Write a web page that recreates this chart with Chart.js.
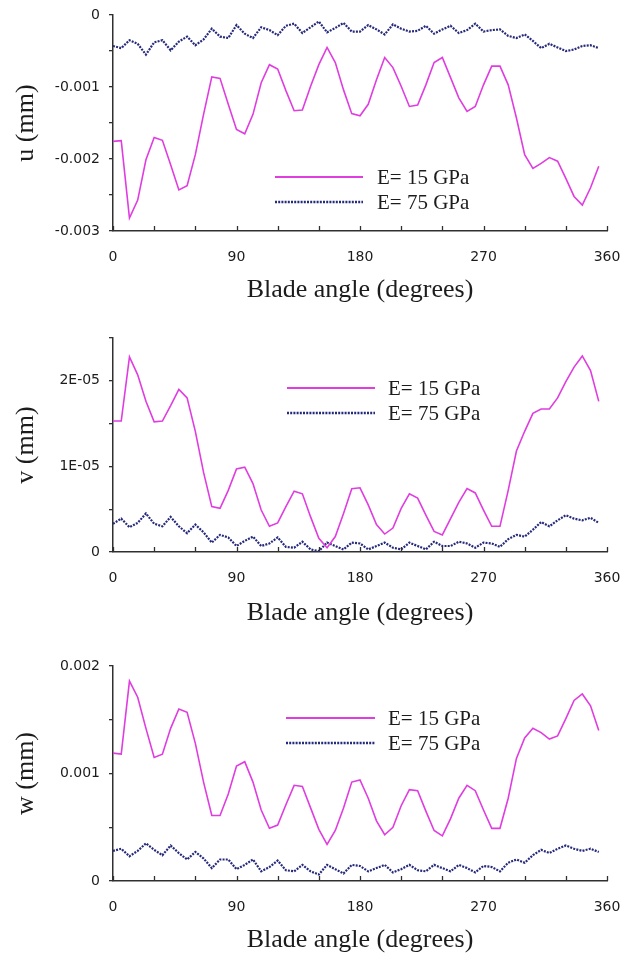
<!DOCTYPE html>
<html>
<head>
<meta charset="utf-8">
<script src="https://cdn.jsdelivr.net/npm/chart.js@4/dist/chart.umd.min.js"></script>
<style>
  html, body { margin: 0; padding: 0; background: #ffffff; }
  #wrap { position: relative; width: 623px; height: 956px; overflow: hidden; }
  .panel { position: absolute; left: 0; }
</style>
</head>
<body>
<div id="wrap">
  <canvas id="chartU" class="panel" width="623" height="320" style="top:0px"></canvas>
  <canvas id="chartV" class="panel" width="623" height="320" style="top:320px"></canvas>
  <canvas id="chartW" class="panel" width="623" height="316" style="top:640px"></canvas>
</div>
<script>
// Blade angle (degrees)
const angles = [0, 6, 12, 18, 24, 30, 36, 42, 48, 54, 60, 66, 72, 78, 84, 90, 96, 102, 108, 114,
  120, 126, 132, 138, 144, 150, 156, 162, 168, 174, 180, 186, 192, 198, 204, 210, 216, 222, 228, 234,
  240, 246, 252, 258, 264, 270, 276, 282, 288, 294, 300, 306, 312, 318, 324, 330, 336, 342, 348, 354];

// u displacement (mm)
const u15 = [-1.755e-3, -1.746e-3, -2.82e-3, -2.57e-3, -2.01e-3, -1.70e-3, -1.74e-3, -2.08e-3, -2.43e-3, -2.37e-3,
  -1.94e-3, -1.38e-3, -0.86e-3, -0.88e-3, -1.24e-3, -1.59e-3, -1.65e-3, -1.38e-3, -0.94e-3, -0.69e-3,
  -0.75e-3, -1.05e-3, -1.33e-3, -1.32e-3, -0.99e-3, -0.69e-3, -0.45e-3, -0.66e-3, -1.04e-3, -1.37e-3,
  -1.40e-3, -1.24e-3, -0.90e-3, -0.59e-3, -0.73e-3, -0.99e-3, -1.27e-3, -1.25e-3, -0.97e-3, -0.66e-3,
  -0.59e-3, -0.87e-3, -1.15e-3, -1.34e-3, -1.27e-3, -0.97e-3, -0.71e-3, -0.71e-3, -0.97e-3, -1.43e-3,
  -1.94e-3, -2.13e-3, -2.06e-3, -1.98e-3, -2.03e-3, -2.27e-3, -2.52e-3, -2.64e-3, -2.40e-3, -2.10e-3];
const u75 = [-0.43e-3, -0.46e-3, -0.35e-3, -0.40e-3, -0.55e-3, -0.38e-3, -0.35e-3, -0.49e-3, -0.37e-3, -0.30e-3,
  -0.42e-3, -0.34e-3, -0.19e-3, -0.30e-3, -0.32e-3, -0.14e-3, -0.26e-3, -0.32e-3, -0.17e-3, -0.21e-3,
  -0.28e-3, -0.15e-3, -0.12e-3, -0.25e-3, -0.17e-3, -0.09e-3, -0.24e-3, -0.18e-3, -0.11e-3, -0.23e-3,
  -0.23e-3, -0.14e-3, -0.20e-3, -0.27e-3, -0.13e-3, -0.19e-3, -0.23e-3, -0.22e-3, -0.15e-3, -0.26e-3,
  -0.20e-3, -0.15e-3, -0.25e-3, -0.21e-3, -0.12e-3, -0.23e-3, -0.21e-3, -0.20e-3, -0.29e-3, -0.32e-3,
  -0.27e-3, -0.36e-3, -0.46e-3, -0.40e-3, -0.45e-3, -0.50e-3, -0.48e-3, -0.43e-3, -0.42e-3, -0.46e-3];

// v displacement (mm)
const v15 = [1.53e-5, 1.53e-5, 2.28e-5, 2.07e-5, 1.76e-5, 1.52e-5, 1.53e-5, 1.71e-5, 1.90e-5, 1.80e-5,
  1.41e-5, 0.93e-5, 0.53e-5, 0.51e-5, 0.72e-5, 0.97e-5, 0.99e-5, 0.80e-5, 0.49e-5, 0.30e-5,
  0.34e-5, 0.53e-5, 0.71e-5, 0.68e-5, 0.41e-5, 0.16e-5, 0.05e-5, 0.18e-5, 0.45e-5, 0.74e-5,
  0.75e-5, 0.55e-5, 0.32e-5, 0.21e-5, 0.28e-5, 0.51e-5, 0.68e-5, 0.63e-5, 0.43e-5, 0.24e-5,
  0.20e-5, 0.39e-5, 0.58e-5, 0.74e-5, 0.69e-5, 0.49e-5, 0.30e-5, 0.30e-5, 0.72e-5, 1.18e-5,
  1.41e-5, 1.62e-5, 1.67e-5, 1.67e-5, 1.80e-5, 1.99e-5, 2.16e-5, 2.29e-5, 2.12e-5, 1.76e-5];
const v75 = [0.33e-5, 0.39e-5, 0.29e-5, 0.34e-5, 0.45e-5, 0.33e-5, 0.30e-5, 0.41e-5, 0.30e-5, 0.22e-5,
  0.32e-5, 0.23e-5, 0.11e-5, 0.20e-5, 0.17e-5, 0.07e-5, 0.13e-5, 0.18e-5, 0.07e-5, 0.10e-5,
  0.17e-5, 0.06e-5, 0.05e-5, 0.12e-5, 0.03e-5, 0.01e-5, 0.11e-5, 0.07e-5, 0.03e-5, 0.11e-5,
  0.10e-5, 0.03e-5, 0.07e-5, 0.11e-5, 0.05e-5, 0.03e-5, 0.11e-5, 0.07e-5, 0.03e-5, 0.12e-5,
  0.07e-5, 0.07e-5, 0.12e-5, 0.10e-5, 0.05e-5, 0.11e-5, 0.10e-5, 0.06e-5, 0.15e-5, 0.20e-5,
  0.18e-5, 0.26e-5, 0.35e-5, 0.30e-5, 0.37e-5, 0.43e-5, 0.39e-5, 0.37e-5, 0.40e-5, 0.34e-5];

// w displacement (mm)
const w15 = [1.19e-3, 1.18e-3, 1.86e-3, 1.71e-3, 1.42e-3, 1.15e-3, 1.18e-3, 1.42e-3, 1.60e-3, 1.57e-3,
  1.28e-3, 0.92e-3, 0.61e-3, 0.61e-3, 0.81e-3, 1.07e-3, 1.11e-3, 0.92e-3, 0.66e-3, 0.49e-3,
  0.52e-3, 0.71e-3, 0.89e-3, 0.88e-3, 0.68e-3, 0.48e-3, 0.34e-3, 0.47e-3, 0.68e-3, 0.92e-3,
  0.94e-3, 0.77e-3, 0.56e-3, 0.43e-3, 0.50e-3, 0.70e-3, 0.85e-3, 0.84e-3, 0.65e-3, 0.47e-3,
  0.42e-3, 0.58e-3, 0.77e-3, 0.89e-3, 0.84e-3, 0.66e-3, 0.49e-3, 0.49e-3, 0.77e-3, 1.14e-3,
  1.33e-3, 1.42e-3, 1.38e-3, 1.32e-3, 1.35e-3, 1.51e-3, 1.68e-3, 1.74e-3, 1.63e-3, 1.40e-3];
const w75 = [0.28e-3, 0.30e-3, 0.23e-3, 0.28e-3, 0.35e-3, 0.29e-3, 0.24e-3, 0.33e-3, 0.26e-3, 0.20e-3,
  0.27e-3, 0.21e-3, 0.12e-3, 0.20e-3, 0.20e-3, 0.11e-3, 0.15e-3, 0.20e-3, 0.09e-3, 0.13e-3,
  0.19e-3, 0.10e-3, 0.09e-3, 0.15e-3, 0.09e-3, 0.06e-3, 0.15e-3, 0.11e-3, 0.07e-3, 0.15e-3,
  0.14e-3, 0.09e-3, 0.12e-3, 0.15e-3, 0.08e-3, 0.11e-3, 0.15e-3, 0.10e-3, 0.09e-3, 0.15e-3,
  0.12e-3, 0.09e-3, 0.15e-3, 0.12e-3, 0.08e-3, 0.14e-3, 0.13e-3, 0.09e-3, 0.17e-3, 0.20e-3,
  0.17e-3, 0.24e-3, 0.29e-3, 0.26e-3, 0.30e-3, 0.33e-3, 0.30e-3, 0.28e-3, 0.30e-3, 0.27e-3];

const seriesLabels = ['E= 15 GPa', 'E= 75 GPa'];
const xTitle = 'Blade angle (degrees)';
const xTickLabels = ['0', '90', '180', '270', '360'];

const MAGENTA = '#e03de0';
const NAVY = '#262a7a';
const INK = '#1c1c1c';
const AXIS = '#303030';
const TICK_FONT = { family: 'DejaVu Sans', size: 14 };
const SERIF = 'Liberation Serif';

// Short tick marks pointing up into the plot from the angle axis
const innerAngleTicks = {
  id: 'innerAngleTicks',
  afterDatasetsDraw(chart) {
    const xs = chart.scales.x;
    const bottom = chart.chartArea.bottom;
    const ctx = chart.ctx;
    ctx.save();
    ctx.strokeStyle = AXIS;
    ctx.lineWidth = 1.3;
    xs.ticks.forEach(t => {
      const px = Math.round(xs.getPixelForValue(t.value)) + 0.5;
      ctx.beginPath();
      ctx.moveTo(px, bottom);
      ctx.lineTo(px, bottom - 5);
      ctx.stroke();
    });
    ctx.restore();
  }
};

// Line-sample legend placed inside the plot
const sampleLegend = {
  id: 'sampleLegend',
  afterDraw(chart, args, opts) {
    const ctx = chart.ctx;
    ctx.save();
    chart.data.datasets.forEach((ds, i) => {
      const y = opts.rows[i];
      ctx.beginPath();
      ctx.strokeStyle = ds.borderColor;
      ctx.lineWidth = i === 0 ? 1.8 : 2.6;
      ctx.setLineDash(ds.borderDash || []);
      ctx.moveTo(opts.x0, y);
      ctx.lineTo(opts.x1, y);
      ctx.stroke();
      ctx.setLineDash([]);
      ctx.fillStyle = INK;
      ctx.font = '21px "' + SERIF + '"';
      ctx.textBaseline = 'middle';
      ctx.textAlign = 'left';
      ctx.fillText(ds.label, opts.textX, y + 1);
    });
    ctx.restore();
  }
};

function points(values) {
  return angles.map((a, i) => ({ x: a, y: values[i] }));
}

function makePanel(id, cfg) {
  const ctx = document.getElementById(id).getContext('2d');
  return new Chart(ctx, {
    type: 'line',
    data: {
      datasets: [
        { label: seriesLabels[0], data: points(cfg.soft), borderColor: MAGENTA, borderWidth: 1.6,
          pointRadius: 0, tension: 0, fill: false },
        { label: seriesLabels[1], data: points(cfg.stiff), borderColor: NAVY, borderWidth: 2.2,
          borderDash: [2, 1.2], pointRadius: 0, tension: 0, fill: false }
      ]
    },
    options: {
      responsive: false,
      animation: false,
      devicePixelRatio: 1,
      layout: { padding: { top: cfg.padTop, right: 16, left: 0, bottom: 0 } },
      plugins: {
        legend: { display: false },
        tooltip: { enabled: false },
        sampleLegend: cfg.legend
      },
      scales: {
        x: {
          type: 'linear', min: 0, max: 360,
          grid: { display: false, drawTicks: false },
          border: { display: true, color: AXIS, width: 1.5 },
          ticks: {
            stepSize: 30, autoSkip: false, maxRotation: 0, padding: 18,
            font: TICK_FONT, color: INK,
            callback: v => (xTickLabels.includes(String(v)) ? String(v) : '')
          },
          title: {
            display: true, text: xTitle, color: INK,
            font: { family: SERIF, size: 26 },
            padding: { top: 0, bottom: cfg.titlePad }
          },
          afterFit: s => { s.height = cfg.xHeight; s.paddingLeft = 0; s.paddingRight = 0; }
        },
        y: {
          type: 'linear', min: cfg.min, max: cfg.max,
          grid: { drawOnChartArea: false, drawTicks: true, tickLength: 4, color: AXIS, tickColor: AXIS, lineWidth: 1.3 },
          border: { display: true, color: AXIS, width: 1.5 },
          ticks: {
            stepSize: cfg.step, padding: 9, font: TICK_FONT, color: INK,
            callback: cfg.fmt
          },
          title: {
            display: true, text: cfg.yTitle, color: INK,
            font: { family: SERIF, size: 26 },
            padding: { top: 11, bottom: 0 }
          },
          afterFit: s => { s.width = 113; s.paddingTop = 0; s.paddingBottom = 0; }
        }
      }
    },
    plugins: [innerAngleTicks, sampleLegend]
  });
}

function majorOnly(unit, render) {
  return v => {
    const r = v / unit;
    if (Math.abs(r - Math.round(r)) > 1e-6) return '';
    const n = Math.round(r);
    return n === 0 ? '0' : render(n);
  };
}

makePanel('chartU', {
  soft: u15, stiff: u75, yTitle: 'u (mm)',
  min: -0.003, max: 0, step: 0.0005,
  fmt: majorOnly(0.001, n => (n * 0.001).toFixed(3)),
  padTop: 15, xHeight: 89, titlePad: 14,
  legend: { x0: 275, x1: 363, textX: 377, rows: [177, 202] }
});

makePanel('chartV', {
  soft: v15, stiff: v75, yTitle: 'v (mm)',
  min: 0, max: 2.5e-5, step: 0.5e-5,
  fmt: majorOnly(1e-5, n => n + 'E-05'),
  padTop: 18, xHeight: 88, titlePad: 11,
  legend: { x0: 287, x1: 375, textX: 388, rows: [68, 93] }
});

makePanel('chartW', {
  soft: w15, stiff: w75, yTitle: 'w (mm)',
  min: 0, max: 0.002, step: 0.0005,
  fmt: majorOnly(0.001, n => (n * 0.001).toFixed(3)),
  padTop: 26, xHeight: 75, titlePad: 0,
  legend: { x0: 286, x1: 375, textX: 388, rows: [78, 103] }
});
</script>
</body>
</html>
